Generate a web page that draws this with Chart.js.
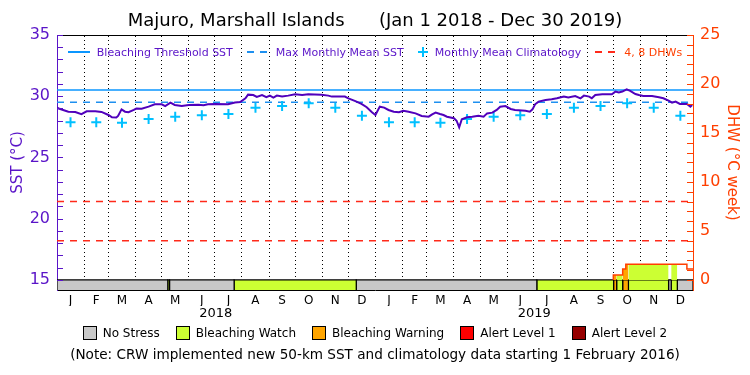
<!DOCTYPE html>
<html>
<head>
<meta charset="utf-8">
<script src="https://cdn.jsdelivr.net/npm/chart.js@4.4.1/dist/chart.umd.min.js"></script>
<style>
  body { margin: 0; background: #fff; }
  #wrap { position: relative; width: 750px; height: 375px; font-family: "DejaVu Sans", sans-serif; }
  #c { display: block; }
  .row { position: absolute; left: 0; width: 750px; display: flex; justify-content: center; align-items: center; white-space: pre; }
  #topLegend { top: 44px; left: 57px; width: 636px; height: 16px; font-size: 11px; gap: 14px; }
  #topLegend span { display: inline-flex; align-items: center; gap: 7px; }
  #stressLegend { top: 325px; height: 16px; font-size: 12px; gap: 16px; }
  #stressLegend span { display: inline-flex; align-items: center; gap: 6px; }
  #stressLegend i { display: inline-block; width: 12px; height: 12px; border: 1px solid #000; }
  #note { top: 346px; height: 16px; font-size: 13.6px; }
</style>
</head>
<body>
<div id="wrap">
  <canvas id="c" width="750" height="375"></canvas>
  <div id="topLegend" class="row">
    <span style="color:#5a14c8"><svg width="22" height="4"><line x1="0" y1="2" x2="22" y2="2" stroke="#0a96ff" stroke-width="2"/></svg>Bleaching Threshold SST</span>
    <span style="color:#5a14c8"><svg width="22" height="4"><line x1="0" y1="2" x2="22" y2="2" stroke="#1e90f0" stroke-width="2" stroke-dasharray="7,6"/></svg>Max Monthly Mean SST</span>
    <span style="color:#5a14c8"><svg width="10" height="10"><path d="M5 0V10M0 5H10" stroke="#00c0ff" stroke-width="2"/></svg>Monthly Mean Climatology</span>
    <span style="color:#ff3f00"><svg width="22" height="4"><line x1="0" y1="2" x2="22" y2="2" stroke="#ff2a1a" stroke-width="2" stroke-dasharray="7,6"/></svg>4, 8 DHWs</span>
  </div>
  <div id="stressLegend" class="row"></div>
  <div id="note" class="row">(Note: CRW implemented new 50-km SST and climatology data starting 1 February 2016)</div>
</div>
<script>
// days counted from Jan 1 2018
const DAY_MIN = 0;
const DAY_MAX = 729;
const SST_MIN = 14.18;
const SST_MAX = 35;
const DHW_MIN = -1.02;
const DHW_MAX = 25;
const STRESS_TOP = 15;

const monthLabels = ["J","F","M","A","M","J","J","A","S","O","N","D",
                     "J","F","M","A","M","J","J","A","S","O","N","D"];
const yearLabels = ["2018", "2019"];
const sstTickValues = [15,16,17,18,19,20,21,22,23,24,25,26,27,28,29,30,31,32,33,34,35];
const dhwTickValues = [0,1,2,3,4,5,6,7,8,9,10,11,12,13,14,15,16,17,18,19,20,21,22,23,24,25];

const sstDays = [0,2,7,13,21,28,34,44,51,59,63,68,70,74,78,82,88,91,97,105,112,120,124,130,135,143,151,162,168,173,181,196,
  204,210,216,219,225,229,235,240,244,248,252,258,265,273,281,288,303,311,315,330,334,342,349,355,361,365,
  370,375,380,386,392,397,403,411,418,426,430,434,439,443,447,455,458,461,464,470,476,483,489,493,499,504,508,514,
  520,525,537,542,545,548,552,560,567,573,581,586,594,600,604,610,613,617,625,636,640,644,648,653,657,663,667,672,
  682,690,695,701,705,709,714,722,726,728];
const sstVals = [29.07,29.0,28.88,28.74,28.71,28.53,28.77,28.77,28.72,28.47,28.28,28.27,28.39,28.93,28.74,28.7,28.88,28.99,28.98,29.15,29.34,29.34,29.2,29.48,29.29,29.2,29.29,29.31,29.26,29.34,29.37,29.34,
  29.48,29.53,29.83,30.13,30.1,29.94,30.1,29.92,30.05,29.89,30.05,29.97,30.05,30.16,30.1,30.16,30.13,30.05,29.97,29.97,29.83,29.6,29.37,29.1,28.69,28.47,
  29.15,29.07,28.88,28.74,28.69,28.82,28.74,28.6,28.39,28.33,28.52,28.66,28.55,28.47,28.33,28.2,28.0,27.47,28.12,28.28,28.33,28.41,28.33,28.6,28.66,28.88,29.15,29.2,
  28.96,28.88,28.82,28.74,28.93,29.34,29.56,29.69,29.75,29.83,29.97,29.89,30.02,29.83,30.05,29.97,29.83,30.1,30.16,30.16,30.38,30.3,30.38,30.57,30.44,30.18,30.1,30.02,
  30.02,29.91,29.83,29.64,29.48,29.56,29.37,29.37,29.15,29.29];

const climatology = [27.87,27.87,27.83,28.15,28.33,28.45,28.55,29.06,29.2,29.42,29.06,28.4];
const bleachingThreshold = 30.5;
const maxMonthlyMean = 29.5;
const dhwLevels = [4, 8];

const dhwDays = [637.7, 637.7, 648.4, 652, 722, 729];
const dhwVals = [0, 0.5, 1.13, 1.61, 1.13, 1.13];

const stressStart = [0,127,129,203,343,550,638,641.5,648.4,655,701,704,711];
const stressEnd   = [127,129,203,343,550,638,641.5,648.4,655,701,704,711,729];
const stressLevel = [0,1,0,1,0,1,2,1,2,1,0,1,0];
const stressNames = ["No Stress","Bleaching Watch","Bleaching Warning","Alert Level 1","Alert Level 2"];
const stressColors = ["#c8c8c8","#ccff33","#ffa500","#ff0000","#960000"];

const purple = "#5a14c8";
const orange = "#ff3f00";

// month starts / mid points in days since Jan 1 2018
const t0 = Date.UTC(2018, 0, 1);
const monthStarts = [];
for (let i = 0; i <= 24; i++) {
  monthStarts.push((Date.UTC(2018, i, 1) - t0) / 86400000);
}
const monthMids = monthStarts.slice(0, 24).map((d, i) => (d + monthStarts[i + 1]) / 2);
const yearMids = [182, 547];

function dhwAt(d) {
  let v = 0;
  dhwDays.forEach((day, i) => { if (day <= d) v = dhwVals[i]; });
  return v;
}

const datasets = [];

datasets.push({
  label: "SST",
  data: sstDays.map((d, i) => ({ x: d, y: sstVals[i] })),
  yAxisID: "y", xAxisID: "x",
  borderColor: "#5000bc", borderWidth: 2, pointRadius: 0, order: 0
});
datasets.push({
  label: "Monthly Mean Climatology",
  data: monthMids.map((d, i) => ({ x: d, y: climatology[i % 12] })),
  yAxisID: "y", xAxisID: "x",
  showLine: false, pointStyle: "cross", pointRadius: 5, borderWidth: 2,
  borderColor: "#00c0ff", order: 1
});
datasets.push({
  label: "Bleaching Threshold SST",
  data: [{ x: DAY_MIN, y: bleachingThreshold }, { x: DAY_MAX, y: bleachingThreshold }],
  yAxisID: "y", xAxisID: "x",
  borderColor: "#0a96ff", borderWidth: 1.5, pointRadius: 0, order: 3
});
datasets.push({
  label: "Max Monthly Mean SST",
  data: [{ x: DAY_MIN, y: maxMonthlyMean }, { x: DAY_MAX, y: maxMonthlyMean }],
  yAxisID: "y", xAxisID: "x",
  borderColor: "#1e90f0", borderWidth: 1.5, borderDash: [7, 6], pointRadius: 0, order: 3
});
dhwLevels.forEach(v => {
  datasets.push({
    label: v + " DHW",
    data: [{ x: DAY_MIN, y: v }, { x: DAY_MAX, y: v }],
    yAxisID: "y2", xAxisID: "x",
    borderColor: "#ff2a1a", borderWidth: 1.5, borderDash: [7, 6], pointRadius: 0, order: 4
  });
});
datasets.push({
  label: "DHW",
  data: dhwDays.map((d, i) => ({ x: d, y: dhwVals[i] })),
  yAxisID: "y2", xAxisID: "x",
  borderColor: orange, borderWidth: 1.5, pointRadius: 0, stepped: "before", order: 2
});

// DHW area coloured by stress level
stressStart.forEach((s, k) => {
  const e = stressEnd[k];
  if (stressLevel[k] === 0) return;
  const pts = [{ x: s, y: dhwAt(s) }];
  dhwDays.forEach((d, i) => { if (d > s && d < e) pts.push({ x: d, y: dhwVals[i] }); });
  pts.push({ x: e, y: pts[pts.length - 1].y });
  if (pts.every(p => p.y === 0)) return;
  datasets.push({
    label: "fill" + k,
    data: pts,
    yAxisID: "y2", xAxisID: "x",
    stepped: "before", borderWidth: 0, pointRadius: 0,
    fill: "origin", backgroundColor: stressColors[stressLevel[k]], order: 8
  });
});

// stress bar along the bottom
stressStart.forEach((s, k) => {
  const e = stressEnd[k];
  datasets.push({
    label: "stress" + k,
    data: [{ x: s, y: SST_MIN }, { x: s, y: STRESS_TOP }, { x: e, y: STRESS_TOP }, { x: e, y: SST_MIN }],
    yAxisID: "y", xAxisID: "x",
    borderColor: "#000", borderWidth: 1.2, pointRadius: 0,
    fill: "start", backgroundColor: stressColors[stressLevel[k]], order: 9
  });
});

const innerTicks = {
  id: "innerTicks",
  afterDatasetsDraw(chart) {
    const ctx = chart.ctx;
    [["y", 1, purple], ["y2", -1, orange]].forEach(([id, dir, col]) => {
      const s = chart.scales[id];
      const x0 = dir > 0 ? s.right : s.left;
      ctx.save();
      ctx.strokeStyle = col;
      ctx.lineWidth = 1;
      s.ticks.forEach(t => {
        const y = Math.round(s.getPixelForValue(t.value)) + 0.5;
        ctx.beginPath();
        ctx.moveTo(x0, y);
        ctx.lineTo(x0 + dir * 6, y);
        ctx.stroke();
      });
      ctx.restore();
    });
  }
};

Chart.defaults.font.family = "'DejaVu Sans', sans-serif";

new Chart(document.getElementById("c"), {
  type: "line",
  data: { datasets: datasets },
  options: {
    responsive: false,
    animation: false,
    layout: { padding: { left: 0, right: 0, top: 0, bottom: 52 } },
    plugins: {
      legend: { display: false },
      tooltip: { enabled: false },
      title: {
        display: true,
        text: "Majuro, Marshall Islands      (Jan 1 2018 - Dec 30 2019)",
        color: "#000",
        font: { size: 18, weight: "normal" },
        padding: { top: 11, bottom: 2.4 }
      }
    },
    scales: {
      x: {
        type: "linear", position: "bottom", min: DAY_MIN, max: DAY_MAX,
        afterBuildTicks: s => { s.ticks = monthMids.map(v => ({ value: v })); },
        afterFit: s => { s.height = 16; },
        ticks: { autoSkip: false, maxRotation: 0, color: "#000", font: { size: 12 }, padding: 4,
                 callback: (v, i) => monthLabels[i] },
        grid: { display: false, drawTicks: false },
        border: { display: true, color: "#000", width: 1 }
      },
      xYear: {
        type: "linear", position: "bottom", min: DAY_MIN, max: DAY_MAX,
        afterBuildTicks: s => { s.ticks = yearMids.map(v => ({ value: v })); },
        afterFit: s => { s.height = 17; },
        ticks: { autoSkip: false, maxRotation: 0, color: "#000", font: { size: 13 }, padding: 0,
                 callback: (v, i) => yearLabels[i] },
        grid: { display: false, drawTicks: false },
        border: { display: false }
      },
      xGrid: {
        type: "linear", position: "top", min: DAY_MIN, max: DAY_MAX,
        afterBuildTicks: s => { s.ticks = monthStarts.slice(1, 24).map(v => ({ value: v })); },
        afterFit: s => { s.height = 0; },
        ticks: { display: false },
        grid: { color: "#000", lineWidth: 1, drawTicks: false },
        border: { display: true, color: "#000", width: 1, dash: [1, 3] }
      },
      y: {
        type: "linear", position: "left", min: SST_MIN, max: SST_MAX,
        afterBuildTicks: s => { s.ticks = sstTickValues.map(v => ({ value: v })); },
        afterFit: s => { s.width = 57; },
        ticks: { autoSkip: false, color: purple, font: { size: 16 }, padding: 7,
                 callback: v => (v % 5 === 0 ? String(v) : "") },
        grid: { display: false, drawTicks: false },
        border: { display: true, color: purple, width: 1 },
        title: { display: true, text: "SST (°C)", color: purple, font: { size: 15 }, padding: { top: 9, bottom: 0 } }
      },
      y2: {
        type: "linear", position: "right", min: DHW_MIN, max: DHW_MAX,
        afterBuildTicks: s => { s.ticks = dhwTickValues.map(v => ({ value: v })); },
        afterFit: s => { s.width = 57; },
        ticks: { autoSkip: false, color: orange, font: { size: 16 }, padding: 7,
                 callback: v => (v % 5 === 0 ? String(v) : "") },
        grid: { display: false, drawTicks: false },
        border: { display: true, color: orange, width: 1 },
        title: { display: true, text: "DHW (°C week)", color: orange, font: { size: 15 }, padding: { top: 9, bottom: 0 } }
      }
    }
  },
  plugins: [innerTicks]
});

// stress level legend
const sl = document.getElementById("stressLegend");
stressNames.forEach((n, i) => {
  const sp = document.createElement("span");
  sp.innerHTML = '<i style="background:' + stressColors[i] + '"></i>' + n;
  sl.appendChild(sp);
});
</script>
</body>
</html>
